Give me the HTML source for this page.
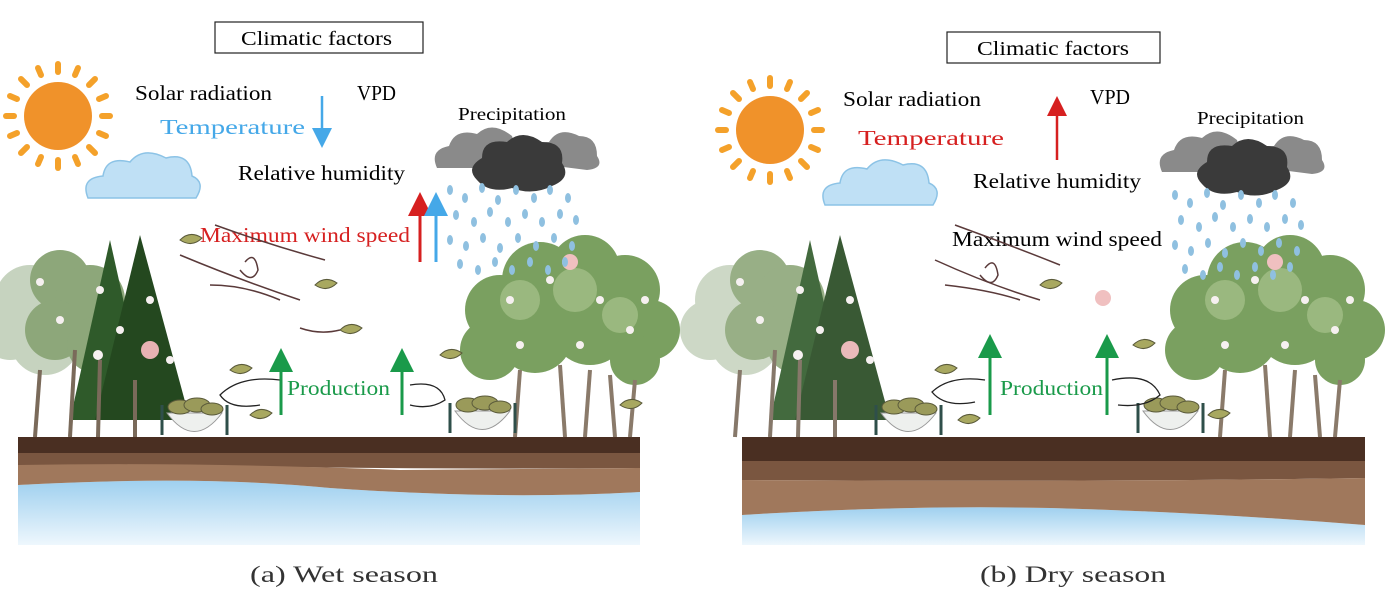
<!DOCTYPE html>
<html><head><meta charset="utf-8"><style>
html,body{margin:0;padding:0;background:#fff;}
svg{display:block;}
text{font-family:"Liberation Serif",serif;}
</style></head><body>
<svg width="1389" height="595" viewBox="0 0 1389 595" xmlns="http://www.w3.org/2000/svg">
<defs>
<linearGradient id="water" x1="0" y1="0" x2="0" y2="1"><stop offset="0" stop-color="#9fd0ef"/><stop offset="1" stop-color="#eef7fd"/></linearGradient>
<marker id="ag" markerWidth="8" markerHeight="8" refX="4" refY="4" orient="auto"><path d="M0,0 L8,4 L0,8 z" fill="#1a9a4a"/></marker>
<marker id="ar" markerWidth="8" markerHeight="8" refX="4" refY="4" orient="auto"><path d="M0,0 L8,4 L0,8 z" fill="#d62020"/></marker>
<marker id="ab" markerWidth="8" markerHeight="8" refX="4" refY="4" orient="auto"><path d="M0,0 L8,4 L0,8 z" fill="#45a8e8"/></marker>
<g id="sun"><g stroke="#f4a12a" stroke-width="6" stroke-linecap="round">
<line x1="0" y1="-44" x2="0" y2="-52"/><line x1="0" y1="44" x2="0" y2="52"/><line x1="-44" y1="0" x2="-52" y2="0"/><line x1="44" y1="0" x2="52" y2="0"/>
<line x1="31" y1="31" x2="37" y2="37"/><line x1="-31" y1="31" x2="-37" y2="37"/><line x1="31" y1="-31" x2="37" y2="-37"/><line x1="-31" y1="-31" x2="-37" y2="-37"/>
<line x1="17" y1="-41" x2="20" y2="-48"/><line x1="-17" y1="-41" x2="-20" y2="-48"/><line x1="17" y1="41" x2="20" y2="48"/><line x1="-17" y1="41" x2="-20" y2="48"/>
<line x1="41" y1="17" x2="48" y2="20"/><line x1="-41" y1="17" x2="-48" y2="20"/><line x1="41" y1="-17" x2="48" y2="-20"/><line x1="-41" y1="-17" x2="-48" y2="-20"/></g>
<circle r="34" fill="#f0922a"/></g>
<g id="bcloud"><path d="M0,50 Q-8,30 15,28 Q18,8 42,14 Q55,-2 78,10 Q102,4 104,28 Q118,34 108,50 Z" fill="#bfe0f5" stroke="#8cc3e6" stroke-width="1.5"/></g>
<g id="gcloud"><path d="M0,40 Q-8,22 12,18 Q18,0 40,6 Q55,-8 75,8 L85,40 Z" fill="#8a8a8a"/>
<path d="M95,35 Q92,15 112,14 Q122,-2 142,8 Q160,8 160,28 Q168,40 150,42 Z" fill="#8a8a8a"/>
<path d="M40,52 Q28,40 45,30 Q45,10 70,14 Q85,0 105,14 Q128,14 125,35 Q135,50 115,58 Q95,68 75,60 Q52,66 40,52 Z" fill="#3a3a3a"/></g>
<g id="rain" fill="#8fc0e0">
<ellipse cx="0" cy="0" rx="3" ry="5"/><ellipse cx="15" cy="8" rx="3" ry="5"/><ellipse cx="32" cy="-2" rx="3" ry="5"/><ellipse cx="48" cy="10" rx="3" ry="5"/><ellipse cx="66" cy="0" rx="3" ry="5"/><ellipse cx="84" cy="8" rx="3" ry="5"/><ellipse cx="100" cy="0" rx="3" ry="5"/><ellipse cx="118" cy="8" rx="3" ry="5"/>
<ellipse cx="6" cy="25" rx="3" ry="5"/><ellipse cx="24" cy="32" rx="3" ry="5"/><ellipse cx="40" cy="22" rx="3" ry="5"/><ellipse cx="58" cy="32" rx="3" ry="5"/><ellipse cx="75" cy="24" rx="3" ry="5"/><ellipse cx="92" cy="32" rx="3" ry="5"/><ellipse cx="110" cy="24" rx="3" ry="5"/><ellipse cx="126" cy="30" rx="3" ry="5"/>
<ellipse cx="0" cy="50" rx="3" ry="5"/><ellipse cx="16" cy="56" rx="3" ry="5"/><ellipse cx="33" cy="48" rx="3" ry="5"/><ellipse cx="50" cy="58" rx="3" ry="5"/><ellipse cx="68" cy="48" rx="3" ry="5"/><ellipse cx="86" cy="56" rx="3" ry="5"/><ellipse cx="104" cy="48" rx="3" ry="5"/><ellipse cx="122" cy="56" rx="3" ry="5"/>
<ellipse cx="10" cy="74" rx="3" ry="5"/><ellipse cx="28" cy="80" rx="3" ry="5"/><ellipse cx="45" cy="72" rx="3" ry="5"/><ellipse cx="62" cy="80" rx="3" ry="5"/><ellipse cx="80" cy="72" rx="3" ry="5"/><ellipse cx="98" cy="80" rx="3" ry="5"/><ellipse cx="115" cy="72" rx="3" ry="5"/></g>
<g id="treesL">
<g fill="#b9c9b0" opacity="0.8"><circle cx="30" cy="300" r="35"/><circle cx="10" cy="330" r="30"/><circle cx="45" cy="340" r="35"/></g>
<g fill="#8da77a"><circle cx="60" cy="280" r="30"/><circle cx="90" cy="300" r="35"/><circle cx="55" cy="330" r="30"/><circle cx="95" cy="345" r="28"/></g>
<path d="M110,240 L70,420 L150,420 Z" fill="#2f5a2a"/>
<path d="M140,235 L95,420 L190,420 Z" fill="#24481f"/>
<g stroke="#7a6a5a" stroke-width="4"><line x1="75" y1="350" x2="70" y2="437"/><line x1="100" y1="360" x2="98" y2="437"/><line x1="135" y1="380" x2="135" y2="437"/><line x1="40" y1="370" x2="35" y2="437"/></g>
<g fill="#f6f0f0"><circle cx="40" cy="282" r="4"/><circle cx="100" cy="290" r="4"/><circle cx="150" cy="300" r="4"/><circle cx="120" cy="330" r="4"/><circle cx="98" cy="355" r="5"/><circle cx="170" cy="360" r="4"/><circle cx="60" cy="320" r="4"/></g>
<circle cx="150" cy="350" r="9" fill="#e8b3b3"/>
</g>
<g id="treesR">
<g fill="#7aa060"><circle cx="40" cy="310" r="35"/><circle cx="80" cy="280" r="38"/><circle cx="125" cy="270" r="35"/><circle cx="165" cy="290" r="35"/><circle cx="190" cy="330" r="30"/><circle cx="30" cy="350" r="30"/><circle cx="75" cy="335" r="38"/><circle cx="130" cy="325" r="40"/><circle cx="175" cy="360" r="25"/></g>
<g fill="#a3bf87" opacity="0.8"><circle cx="60" cy="300" r="20"/><circle cx="115" cy="290" r="22"/><circle cx="160" cy="315" r="18"/></g>
<g stroke="#8a7a6a" stroke-width="4" fill="none"><path d="M60,370 L55,437"/><path d="M100,365 L105,437"/><path d="M130,370 L125,437"/><path d="M150,375 L155,437"/><path d="M175,380 L170,437"/></g>
<g fill="#f6f0f0"><circle cx="50" cy="300" r="4"/><circle cx="90" cy="280" r="4"/><circle cx="140" cy="300" r="4"/><circle cx="170" cy="330" r="4"/><circle cx="60" cy="345" r="4"/><circle cx="120" cy="345" r="4"/><circle cx="185" cy="300" r="4"/></g>
<circle cx="110" cy="262" r="8" fill="#f0c0c0"/>
</g>
<g id="basket"><path d="M0,0 L0,30 M65,0 L65,30" stroke="#2f4f4a" stroke-width="3"/><path d="M5,8 Q32,45 60,8 Z" fill="#eef0ee" stroke="#999" stroke-width="1"/>
<g fill="#9a9a5a" stroke="#5a5a3a" stroke-width="1"><ellipse cx="18" cy="2" rx="12" ry="7"/><ellipse cx="35" cy="0" rx="13" ry="7"/><ellipse cx="50" cy="4" rx="11" ry="6"/></g></g>
<g id="leaf"><path d="M0,0 Q10,-10 22,-2 Q12,8 0,0 Z" fill="#a8a860" stroke="#5a5a3a" stroke-width="1"/></g>
</defs>

<!-- Panel A -->
<path d="M18,485 Q200,475 330,488 Q500,500 640,492 L640,545 L18,545 Z" fill="url(#water)"/>
<rect x="18" y="437" width="622" height="16" fill="#4a2f22"/>
<path d="M18,453 L640,453 L640,468 Q400,470 200,465 L18,465 Z" fill="#7a5640"/>
<path d="M18,465 Q200,462 400,470 L640,468 L640,492 Q500,500 330,488 Q200,475 18,485 Z" fill="#a0785c"/>
<use href="#treesL" x="0" y="0"/>
<use href="#treesR" x="460" y="0"/>
<use href="#sun" x="58" y="116"/>
<use href="#bcloud" x="88" y="148"/>
<use href="#gcloud" x="437" y="128"/>
<use href="#rain" x="450" y="190"/>
<rect x="215" y="22" width="208" height="31" fill="#fff" stroke="#222" stroke-width="1.2"/>
<text x="241" y="45" font-size="20" textLength="151" lengthAdjust="spacingAndGlyphs">Climatic factors</text>
<text x="135" y="100" font-size="21" textLength="137" lengthAdjust="spacingAndGlyphs">Solar radiation</text>
<text x="357" y="100" font-size="21" textLength="39" lengthAdjust="spacingAndGlyphs">VPD</text>
<text x="160" y="134" font-size="21" fill="#45a8e8" textLength="145" lengthAdjust="spacingAndGlyphs">Temperature</text>
<line x1="322" y1="96" x2="322" y2="138" stroke="#45a8e8" stroke-width="2.5" marker-end="url(#ab)"/>
<text x="238" y="180" font-size="21" textLength="167" lengthAdjust="spacingAndGlyphs">Relative humidity</text>
<text x="200" y="242" font-size="21" fill="#d62020" textLength="210" lengthAdjust="spacingAndGlyphs">Maximum wind speed</text>
<line x1="420" y1="262" x2="420" y2="204" stroke="#d62020" stroke-width="3" marker-end="url(#ar)"/>
<line x1="436" y1="262" x2="436" y2="204" stroke="#45a8e8" stroke-width="3" marker-end="url(#ab)"/>
<text x="458" y="120" font-size="18" textLength="108" lengthAdjust="spacingAndGlyphs">Precipitation</text>
<g stroke="#5a3a3a" stroke-width="1.5" fill="none"><path d="M180,255 Q240,280 300,300"/><path d="M210,285 Q245,285 280,300"/><path d="M245,262 Q255,250 258,270 Q252,285 240,270"/><path d="M215,225 Q270,245 325,260"/><path d="M300,328 Q320,335 340,330"/></g>
<use href="#leaf" x="340" y="330"/><use href="#leaf" x="315" y="285"/><use href="#leaf" x="180" y="240"/><use href="#leaf" x="440" y="355"/><use href="#leaf" x="230" y="370"/><use href="#leaf" x="250" y="415"/><use href="#leaf" x="620" y="405"/>
<use href="#basket" x="162" y="405"/>
<use href="#basket" x="450" y="403"/>
<g stroke="#222" stroke-width="1.3" fill="none"><path d="M280,380 Q240,375 220,395 Q230,410 260,405"/><path d="M410,385 Q440,380 445,400 Q430,410 410,405"/></g>
<line x1="281" y1="415" x2="281" y2="360" stroke="#1a9a4a" stroke-width="3" marker-end="url(#ag)"/>
<line x1="402" y1="415" x2="402" y2="360" stroke="#1a9a4a" stroke-width="3" marker-end="url(#ag)"/>
<text x="287" y="395" font-size="21" fill="#1a9a4a" textLength="103" lengthAdjust="spacingAndGlyphs">Production</text>
<text x="250" y="582" font-size="23" fill="#333" textLength="188" lengthAdjust="spacingAndGlyphs">(a) Wet season</text>

<!-- Panel B -->
<path d="M742,515 Q900,505 1050,508 Q1200,512 1365,525 L1365,545 L742,545 Z" fill="url(#water)"/>
<rect x="742" y="437" width="623" height="24" fill="#4a2f22"/>
<path d="M742,461 L1365,461 L1365,478 Q1100,482 742,480 Z" fill="#7a5640"/>
<path d="M742,480 Q1100,482 1365,478 L1365,525 Q1200,512 1050,508 Q900,505 742,515 Z" fill="#a0785c"/>
<use href="#treesL" x="700" y="0" opacity="0.9"/>
<use href="#treesR" x="1165" y="0"/>
<use href="#sun" x="770" y="130"/>
<use href="#bcloud" x="825" y="155"/>
<use href="#gcloud" x="1162" y="132"/>
<use href="#rain" x="1175" y="195"/>
<rect x="947" y="32" width="213" height="31" fill="#fff" stroke="#222" stroke-width="1.2"/>
<text x="977" y="55" font-size="20" textLength="152" lengthAdjust="spacingAndGlyphs">Climatic factors</text>
<text x="843" y="106" font-size="21" textLength="138" lengthAdjust="spacingAndGlyphs">Solar radiation</text>
<text x="1090" y="104" font-size="21" textLength="40" lengthAdjust="spacingAndGlyphs">VPD</text>
<text x="858" y="145" font-size="21" fill="#d62020" textLength="146" lengthAdjust="spacingAndGlyphs">Temperature</text>
<line x1="1057" y1="160" x2="1057" y2="106" stroke="#d62020" stroke-width="2.5" marker-end="url(#ar)"/>
<text x="973" y="188" font-size="21" textLength="168" lengthAdjust="spacingAndGlyphs">Relative humidity</text>
<text x="952" y="246" font-size="21" textLength="210" lengthAdjust="spacingAndGlyphs">Maximum wind speed</text>
<text x="1197" y="124" font-size="18" textLength="107" lengthAdjust="spacingAndGlyphs">Precipitation</text>
<g stroke="#5a3a3a" stroke-width="1.5" fill="none"><path d="M935,260 Q990,285 1040,300"/><path d="M945,285 Q990,290 1020,300"/><path d="M985,268 Q995,255 998,275 Q992,290 980,275"/><path d="M955,225 Q1010,245 1060,265"/></g>
<use href="#leaf" x="1040" y="285"/><use href="#leaf" x="1133" y="345"/><use href="#leaf" x="935" y="370"/><use href="#leaf" x="958" y="420"/><use href="#leaf" x="1208" y="415"/>
<circle cx="1103" cy="298" r="8" fill="#f0c0c0"/>
<use href="#basket" x="876" y="405"/>
<use href="#basket" x="1138" y="403"/>
<g stroke="#222" stroke-width="1.3" fill="none"><path d="M985,380 Q950,375 932,392 Q945,408 975,402"/><path d="M1112,380 Q1150,372 1160,395 Q1145,408 1118,405"/></g>
<line x1="990" y1="415" x2="990" y2="346" stroke="#1a9a4a" stroke-width="3" marker-end="url(#ag)"/>
<line x1="1107" y1="415" x2="1107" y2="346" stroke="#1a9a4a" stroke-width="3" marker-end="url(#ag)"/>
<text x="1000" y="395" font-size="21" fill="#1a9a4a" textLength="103" lengthAdjust="spacingAndGlyphs">Production</text>
<text x="980" y="582" font-size="23" fill="#333" textLength="186" lengthAdjust="spacingAndGlyphs">(b) Dry season</text>
</svg>
</body></html>
